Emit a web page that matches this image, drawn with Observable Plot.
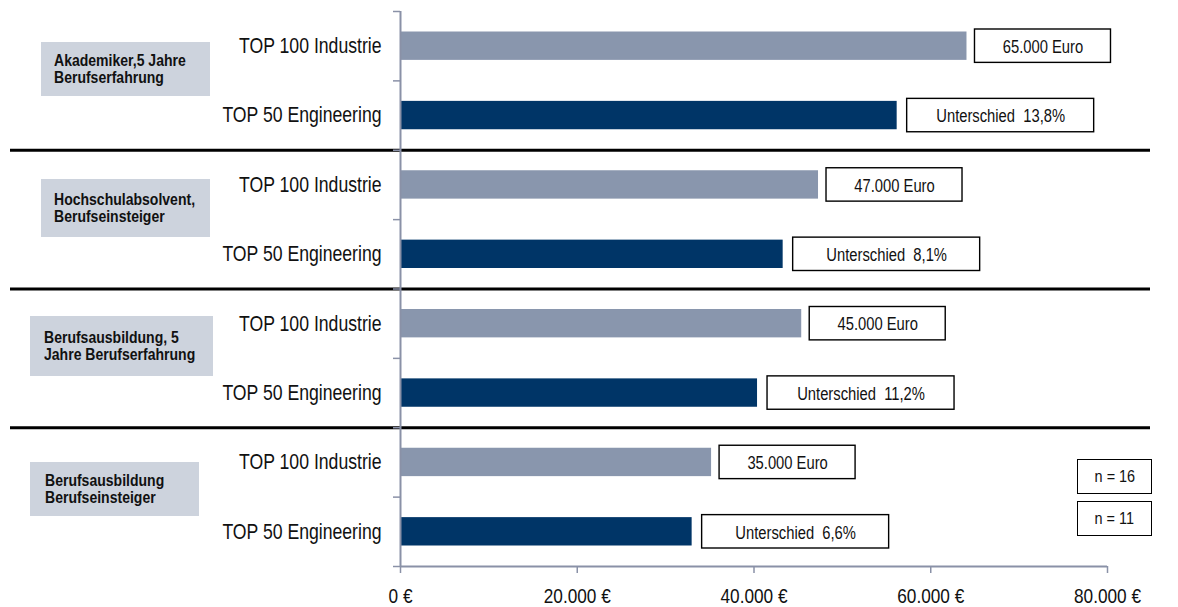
<!DOCTYPE html>
<html>
<head>
<meta charset="utf-8">
<script src="https://cdn.jsdelivr.net/npm/d3@7"></script>
<script src="https://cdn.jsdelivr.net/npm/@observablehq/plot@0.6"></script>
<style>
  html, body { margin: 0; padding: 0; background: #fff; }
  #wrap { position: relative; width: 1178px; height: 607px; font-family: "Liberation Sans", Arial, sans-serif; }
  #wrap svg text { white-space: pre; }
  .gbox { position: absolute; background: #cdd3dd; box-sizing: border-box; display: flex; align-items: center;
          font-weight: bold; font-size: 16.5px; line-height: 17px; color: #111; }
  .gbox span, .nbox span { display: inline-block; white-space: nowrap; transform: scaleX(0.85); }
  .gbox span { transform-origin: left center; }
  .nbox { position: absolute; box-sizing: border-box; border: 1.4px solid #000; background: #fff; display: flex;
          align-items: center; justify-content: center; font-size: 17px; color: #111; }
</style>
</head>
<body>
<div id="wrap"></div>
<script>
// ---- data ----
const groupLabels = [
  ["Akademiker,5 Jahre", "Berufserfahrung"],
  ["Hochschulabsolvent,", "Berufseinsteiger"],
  ["Berufsausbildung, 5", "Jahre Berufserfahrung"],
  ["Berufsausbildung", "Berufseinsteiger"]
];
const series = ["TOP 100 Industrie", "TOP 50 Engineering"];
const top100 = [64100, 47300, 45400, 35200];
const top50 = [56200, 43300, 40400, 33000];
const euroLabels = ["65.000 Euro", "47.000 Euro", "45.000 Euro", "35.000 Euro"];
const diffLabels = ["Unterschied  13,8%", "Unterschied  8,1%", "Unterschied  11,2%", "Unterschied  6,6%"];
const xTicks = [0, 20000, 40000, 60000, 80000];
const sampleSizes = ["n = 16", "n = 11"];

// ---- layout / style ----
const colors = ["#8996ad", "#003567"];
const axisGray = "#8a91a7";
const font = '"Liberation Sans", Arial, sans-serif';
const narrow = 0.82;
const groupBoxes = [
  {left: 41, top: 42, w: 169, h: 54, pad: 13},
  {left: 41, top: 179, w: 169, h: 58, pad: 13},
  {left: 30, top: 316, w: 183, h: 60, pad: 14},
  {left: 30, top: 462, w: 169, h: 54, pad: 15}
];
const nBoxes = [{left: 1077, top: 459, w: 75, h: 35}, {left: 1077, top: 501, w: 75, h: 35}];

const rows = [];
groupLabels.forEach((g, gi) => {
  rows.push({i: gi * 2, series: series[0], value: top100[gi], label: euroLabels[gi]});
  rows.push({i: gi * 2 + 1, series: series[1], value: top50[gi], label: diffLabels[gi]});
});
const rowsA = rows.filter(d => d.series === series[0]);
const rowsB = rows.filter(d => d.series === series[1]);
const bounds = d3.range(0, rows.length + 1);
const separators = bounds.filter(b => b > 0 && b < rows.length && b % 2 === 0);
const fmt = d => d3.formatLocale({decimal: ",", thousands: ".", grouping: [3], currency: ["", ""]}).format(",")(d) + " €";

const euroW = 136, diffW = 187, euroGap = 8, diffGap = 10;

const chart = Plot.plot({
  width: 1178, height: 607,
  marginLeft: 400, marginRight: 71, marginTop: 11, marginBottom: 41,
  style: {fontFamily: font, background: "transparent", overflow: "visible"},
  x: {domain: [0, 80000], axis: null},
  y: {domain: [0, rows.length], reverse: true, axis: null},
  color: {domain: series, range: colors},
  marks: [
    Plot.ruleY(separators, {stroke: "#000", strokeWidth: 3, insetLeft: -390, insetRight: -43}),
    Plot.rect(rows, {x1: 0, x2: "value", y1: "i", y2: d => d.i + 1, insetTop: 20.5, insetBottom: 20.5, fill: "series"}),
    Plot.rect(rowsA, {x1: "value", x2: "value", y1: "i", y2: d => d.i + 1, insetTop: 18, insetBottom: 18,
      insetLeft: euroGap, insetRight: -(euroGap + euroW), fill: "#fff", stroke: "#000", strokeWidth: 1.4}),
    Plot.rect(rowsB, {x1: "value", x2: "value", y1: "i", y2: d => d.i + 1, insetTop: 18, insetBottom: 18,
      insetLeft: diffGap, insetRight: -(diffGap + diffW), fill: "#fff", stroke: "#000", strokeWidth: 1.4}),
    Plot.text(rowsA, {x: "value", y: d => d.i + 0.5, text: "label", dx: euroGap + euroW / 2, dy: 1, fontSize: 18, fill: "#111"}),
    Plot.text(rowsB, {x: "value", y: d => d.i + 0.5, text: "label", dx: diffGap + diffW / 2, dy: 1, fontSize: 18, fill: "#111"}),
    Plot.text(rows, {x: 0, y: d => d.i + 0.5, text: "series", textAnchor: "end", dx: -19, fontSize: 21.5, fill: "#111"}),
    Plot.ruleY(bounds, {x1: 0, x2: 0, insetLeft: -7, stroke: axisGray, strokeWidth: 1.5}),
    Plot.ruleX([0], {y1: 0, y2: rows.length, stroke: axisGray, strokeWidth: 2}),
    Plot.ruleY([rows.length], {x1: 0, x2: 80000, stroke: axisGray, strokeWidth: 2}),
    Plot.ruleX(xTicks, {y1: rows.length, y2: rows.length, insetBottom: -7, stroke: axisGray, strokeWidth: 1.5}),
    Plot.text(xTicks, {x: d => d, y: rows.length, text: fmt, dy: 30, fontSize: 21, fill: "#111"})
  ]
});

const wrap = document.getElementById("wrap");
wrap.appendChild(chart);
chart.style.position = "absolute";
chart.style.left = "0";
chart.style.top = "0";

// narrow the glyphs (Arial Narrow look)
chart.querySelectorAll("text").forEach(t => {
  const L = t.getComputedTextLength();
  if (L > 0) {
    t.setAttribute("textLength", (L * narrow).toFixed(2));
    t.setAttribute("lengthAdjust", "spacingAndGlyphs");
  }
});

groupLabels.forEach((g, gi) => {
  const b = groupBoxes[gi];
  const div = document.createElement("div");
  div.className = "gbox";
  Object.assign(div.style, {left: b.left + "px", top: b.top + "px", width: b.w + "px", height: b.h + "px", paddingLeft: b.pad + "px"});
  const span = document.createElement("span");
  span.innerHTML = g.join("<br>");
  div.appendChild(span);
  wrap.appendChild(div);
});
sampleSizes.forEach((s, k) => {
  const b = nBoxes[k];
  const div = document.createElement("div");
  div.className = "nbox";
  Object.assign(div.style, {left: b.left + "px", top: b.top + "px", width: b.w + "px", height: b.h + "px"});
  const span = document.createElement("span");
  span.textContent = s;
  div.appendChild(span);
  wrap.appendChild(div);
});
</script>
</body>
</html>
